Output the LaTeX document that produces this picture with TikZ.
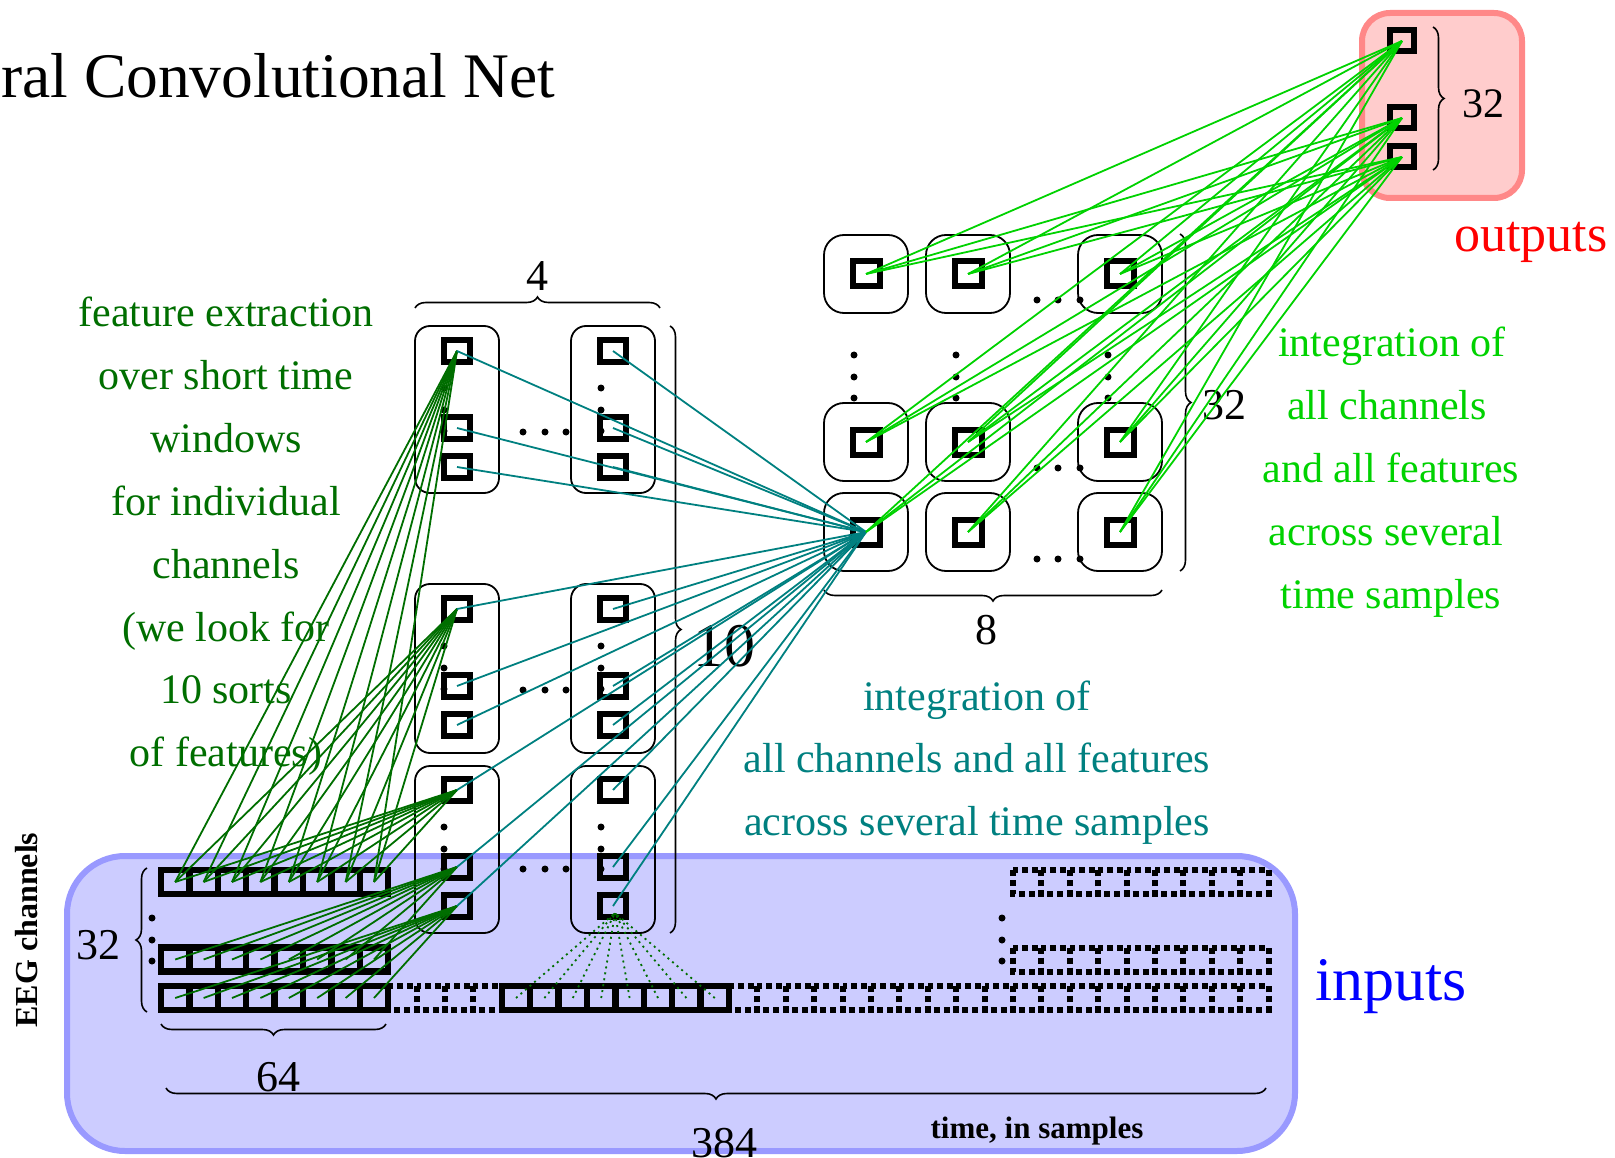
\documentclass[tikz,border=0pt]{standalone}
\usepackage{fontspec}
\setmainfont{Liberation Serif}
\usetikzlibrary{decorations.pathreplacing}
\definecolor{dgreen}{RGB}{0,110,0}
\definecolor{tealc}{RGB}{0,128,128}
\definecolor{bgreen}{RGB}{0,210,0}
\definecolor{inbg}{RGB}{204,204,255}
\definecolor{inbd}{RGB}{153,153,255}
\definecolor{outbg}{RGB}{255,204,204}
\definecolor{outbd}{RGB}{255,136,136}
\newcommand{\fsz}[1]{\fontsize{#1}{#1}\selectfont}
\tikzset{
 sqA/.style={draw, line width=6pt, minimum width=26pt, minimum height=22pt, inner sep=0pt, outer sep=0pt},
 sqB/.style={draw, line width=6pt, minimum width=27pt, minimum height=25pt, inner sep=0pt, outer sep=0pt},
 sqC/.style={draw, line width=6pt, minimum width=24pt, minimum height=21pt, inner sep=0pt, outer sep=0pt},
 cellS/.style={draw, line width=6.5pt, minimum width=28.4pt, minimum height=24pt, inner sep=0pt, outer sep=0pt},
 cellD/.style={draw, line width=6pt, dash pattern=on 6pt off 4pt},
 grp/.style={draw, line width=1.8pt, rounded corners=15pt},
 grpB/.style={draw, line width=1.8pt, rounded corners=20pt},
 brc/.style={decorate, decoration={brace, amplitude=11pt}, line width=1.6pt},
 lnD/.style={dgreen, line width=1.8pt},
 lnT/.style={tealc, line width=1.8pt},
 lnG/.style={bgreen, line width=1.8pt},
 lbl/.style={font=\fsz{44}, inner sep=0pt},
 txt/.style={font=\fsz{42}, anchor=base, inner sep=0pt},
}
\begin{document}
\begin{tikzpicture}[x=1pt,y=-1pt]
\useasboundingbox (0,0) rectangle (1615,1158);

% title
\node[font=\fsz{63.5}, anchor=base west, inner sep=0pt] (title) at (1,98) {ral Convolutional Net};

% inputs box
\draw[inbd, fill=inbg, line width=6pt, rounded corners=58pt] (67,856) rectangle (1295,1151);
\node[blue, font=\fsz{62}, anchor=base, inner sep=0pt] (inlbl) at (1391,1000) {inputs};
\node[font=\bfseries\fsz{32}, rotate=90, inner sep=0pt] (eeg) at (27,930) {EEG channels};
\node[font=\bfseries\fsz{31}, anchor=base, inner sep=0pt] (tis) at (1037,1138) {time, in samples};

% dotted cells
\foreach \y in {882,959.5,998} {
  \foreach \i in {30,...,38} {
    \draw[cellD] ({161+28.4*\i},\y-12) rectangle ++(28.4,24);
  }
}
\foreach \i in {8,...,11,20,21,...,29} {
  \draw[cellD] ({161+28.4*\i},986) rectangle ++(28.4,24);
}
% solid cells
\foreach \r/\y in {1/882,2/959.5,3/998} {
  \foreach \i in {0,...,7} {
    \node[cellS] (C\r-\i) at ({161+28.4*(\i+0.5)},\y) {};
  }
}
\foreach \i in {12,...,19} {
  \node[cellS] (C3-\i) at ({161+28.4*(\i+0.5)},998) {};
}
% dots by rows
\foreach \y in {918,940,961} {
  \fill (152,\y) circle (3.5pt);
  \fill (1002,\y) circle (3.5pt);
}
% input braces
\draw[brc] (147,1012) -- (147,868);
\node[lbl] (n32a) at (98,945) {32};
\draw[brc] (386,1024) -- (161,1024);
\node[lbl] (n64) at (278,1077) {64};
\draw[brc] (1266,1088) -- (166,1088);
\node[lbl] (n384) at (724,1143) {384};

% L1 feature maps
\foreach \x in {415,571} {
  \foreach \ya/\yb in {326/493, 584/753, 766/933} {
    \draw[grp] (\x,\ya) rectangle (\x+84,\yb);
  }
}
\foreach \c/\x in {1/457,2/613} {
  \foreach \g/\ya/\yb/\yc in {1/351/428/467, 2/609/686/725, 3/790/867/906} {
    \node[sqA] (A\c\g1) at (\x,\ya) {};
    \node[sqA] (A\c\g2) at (\x,\yb) {};
    \node[sqA] (A\c\g3) at (\x,\yc) {};
  }
}
\foreach \x in {444,601} {
  \foreach \y in {388,410,431,646,668,689,827,849,869} {
    \fill (\x,\y) circle (3.5pt);
  }
}
\foreach \y in {432,690,869} {
  \foreach \x in {523,545,566} {
    \fill (\x,\y) circle (3.5pt);
  }
}
\draw[brc] (415,308) -- (660,308);
\node[lbl] (n4) at (537,276) {4};
\draw[brc] (670,326) -- (670,933);
\node[font=\fsz{62}, inner sep=0pt] (n10) at (724,646) {10};

% L3 grid
\foreach \i/\x in {1/866,2/968,3/1120} {
  \foreach \j/\y in {1/274,2/442,3/532} {
    \draw[grpB] (\x-42,\y-39) rectangle (\x+42,\y+39);
    \node[sqB] (B\i\j) at (\x,\y) {};
  }
}
\foreach \x in {854,956,1108} {
  \foreach \y in {355,377,398} {
    \fill (\x,\y) circle (3.5pt);
  }
}
\foreach \y in {300,468,559} {
  \foreach \x in {1037,1058,1080} {
    \fill (\x,\y) circle (3.5pt);
  }
}
\draw[brc] (1180,234) -- (1180,571);
\node[lbl] (n32b) at (1224,405) {32};
\draw[brc] (1162,590) -- (824,590);
\node[lbl] (n8) at (986,630) {8};

% outputs
\draw[outbd, fill=outbg, line width=6pt, rounded corners=28pt] (1362,13) rectangle (1522,198);
\node[sqC] (O1) at (1402,41) {};
\node[sqC] (O2) at (1402,118) {};
\node[sqC] (O3) at (1402,157) {};
\draw[brc] (1433,27) -- (1433,170);
\node[font=\fsz{42}, inner sep=0pt] (n32c) at (1483,104) {32};
\node[red, font=\fsz{52}, anchor=base, inner sep=0pt] (outlbl) at (1531,252) {outputs};

% texts
\node[txt, dgreen] (lt0) at (226,327.0) {feature extraction};
\node[txt, dgreen] (lt1) at (226,389.8) {over short time};
\node[txt, dgreen] (lt2) at (226,452.6) {windows};
\node[txt, dgreen] (lt3) at (226,515.4) {for individual};
\node[txt, dgreen] (lt4) at (226,578.2) {channels};
\node[txt, dgreen] (lt5) at (226,641.0) {(we look for};
\node[txt, dgreen] (lt6) at (226,703.8) {10 sorts};
\node[txt, dgreen] (lt7) at (226,766.6) {of features)};

\node[txt, tealc] (mt0) at (977,710) {integration of};
\node[txt, tealc] (mt1) at (977,772.5) {all channels and all features};
\node[txt, tealc] (mt2) at (977,835) {across several time samples};

\node[txt, bgreen] (rt0) at (1392,357.0) {integration of};
\node[txt, bgreen] (rt1) at (1387,419.8) {all channels};
\node[txt, bgreen] (rt2) at (1391,482.6) {and all features};
\node[txt, bgreen] (rt3) at (1386,545.4) {across several};
\node[txt, bgreen] (rt4) at (1391,608.2) {time samples};

% connectors
\foreach \i in {0,...,7} {
  \draw[lnD] (C1-\i.center) -- (A111.center);
  \draw[lnD] (C1-\i.center) -- (A121.center);
  \draw[lnD] (C1-\i.center) -- (A131.center);
  \draw[lnD] (C2-\i.center) -- (A132.center);
  \draw[lnD] (C3-\i.center) -- (A133.center);
}
\coordinate (apex) at (615,913);
\foreach \i in {12,...,19} {
  \draw[dgreen, line width=1.8pt, dash pattern=on 2pt off 4pt] (C3-\i.center) -- (apex);
}
\foreach \c in {1,2} {
  \foreach \g in {1,2,3} {
    \foreach \s in {1,2,3} {
      \draw[lnT] (A\c\g\s.center) -- (B13.center);
    }
  }
}
\foreach \i in {1,2,3} {
  \foreach \j in {1,2,3} {
    \foreach \o in {1,2,3} {
      \draw[lnG] (B\i\j.center) -- (O\o.center);
    }
  }
}
\end{tikzpicture}
\end{document}
